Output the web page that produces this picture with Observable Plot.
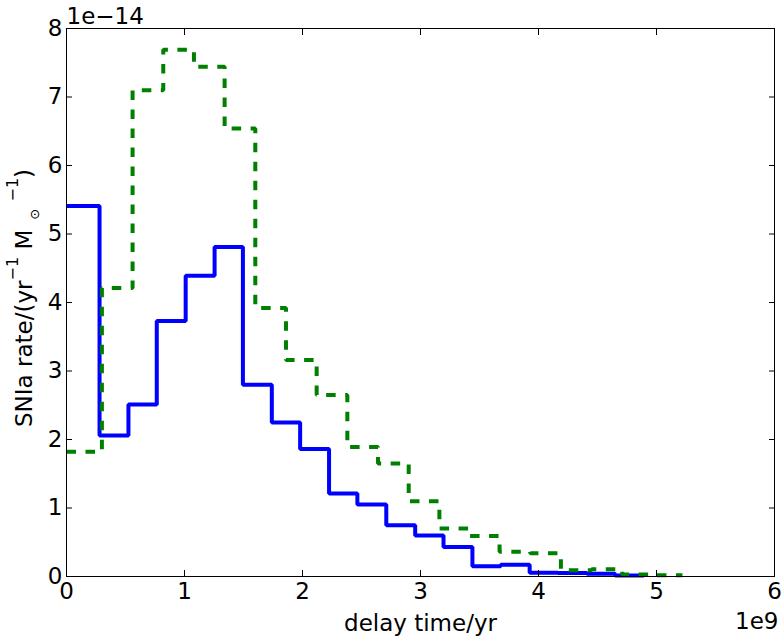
<!DOCTYPE html>
<html>
<head>
<meta charset="utf-8">
<script src="https://cdn.jsdelivr.net/npm/d3@7"></script>
<script src="https://cdn.jsdelivr.net/npm/@observablehq/plot@0.6"></script>
<style>
  body { margin: 0; background: #fff; }
  #chart svg { font-family: "DejaVu Sans", sans-serif; display: block; }
</style>
</head>
<body>
<div id="chart"></div>
<script>
// delay time bin edges (units of 1e9 yr) and SNIa rates (units of 1e-14 /yr/Msun)
const blueEdges = [0, 0.28, 0.525, 0.765, 1.01, 1.255, 1.495, 1.74, 1.98, 2.225, 2.465, 2.71, 2.955, 3.195, 3.44, 3.68, 3.925, 4.165, 4.41, 4.65, 4.895];
const blueRates = [5.41, 2.06, 2.51, 3.73, 4.39, 4.81, 2.80, 2.25, 1.86, 1.21, 1.05, 0.75, 0.60, 0.43, 0.15, 0.17, 0.055, 0.05, 0.04, 0.015];
const greenEdges = [0, 0.30, 0.56, 0.82, 1.08, 1.34, 1.60, 1.86, 2.12, 2.38, 2.64, 2.90, 3.16, 3.41, 3.67, 3.93, 4.19, 4.45, 4.71, 4.97, 5.22];
const greenRates = [1.82, 4.21, 7.10, 7.69, 7.44, 6.54, 3.92, 3.16, 2.65, 1.89, 1.65, 1.10, 0.70, 0.59, 0.36, 0.34, 0.09, 0.105, 0.03, 0.02];
const xTicks = [0, 1, 2, 3, 4, 5, 6];
const yTicks = [0, 1, 2, 3, 4, 5, 6, 7, 8];
const xLabel = "delay time/yr";
const xOffsetLabel = "1e9";
const yOffsetLabel = "1e\u221214";

function steps(edges, rates) {
  return edges.map((x, i) => ({x, y: rates[Math.min(i, rates.length - 1)]}));
}

const fmt = d => String(d);

const chart = Plot.plot({
  width: 782,
  height: 638,
  marginLeft: 66,
  marginRight: 8,
  marginTop: 28,
  marginBottom: 62,
  style: {fontFamily: "DejaVu Sans", fontSize: "23px", background: "white", color: "black", overflow: "visible"},
  x: {domain: [0, 6]},
  y: {domain: [0, 8]},
  marks: [
    Plot.lineY(steps(blueEdges, blueRates), {x: "x", y: "y", curve: "step-after", stroke: "#0000ff", strokeWidth: 4, strokeLinejoin: "miter", strokeLinecap: "butt"}),
    Plot.lineY(steps(greenEdges, greenRates), {x: "x", y: "y", curve: "step-after", stroke: "#008000", strokeWidth: 4, strokeDasharray: "9.5,9.5", strokeLinejoin: "miter", strokeLinecap: "butt"}),
    Plot.frame({stroke: "black", strokeWidth: 1}),
    Plot.axisX(xTicks, {anchor: "bottom", tickSize: 6, dy: -6, fill: "none", label: null}),
    Plot.axisX(xTicks, {anchor: "top", tickSize: 6, dy: 6, fill: "none", label: null}),
    Plot.axisX(xTicks, {anchor: "bottom", tickSize: 0, tickPadding: 6, tickFormat: fmt, label: null}),
    Plot.axisY(yTicks, {anchor: "left", tickSize: 6, dx: 6, fill: "none", label: null}),
    Plot.axisY(yTicks, {anchor: "right", tickSize: 6, dx: -6, fill: "none", label: null}),
    Plot.axisY(yTicks, {anchor: "left", tickSize: 0, tickPadding: 4, tickFormat: fmt, label: null}),
    Plot.text([xLabel], {text: d => d, frameAnchor: "bottom", lineAnchor: "middle", dy: 47, fill: "black"}),
    Plot.text([xOffsetLabel], {text: d => d, frameAnchor: "bottom-right", textAnchor: "end", lineAnchor: "middle", dx: 4, dy: 45, fill: "black"}),
    Plot.text([yOffsetLabel], {text: d => d, frameAnchor: "top-left", textAnchor: "start", lineAnchor: "middle", dx: 0, dy: -12, fill: "black"})
  ]
});

document.getElementById("chart").appendChild(chart);

// y-axis label with mathtext-like super/subscripts
const svg = d3.select(chart);
const lab = svg.append("text")
  .attr("transform", "translate(32,427) rotate(-90)")
  .attr("text-anchor", "start")
  .attr("fill", "black")
  .style("font-family", "DejaVu Sans")
  .style("font-size", "23px");
lab.append("tspan").text("SNIa rate/(yr");
lab.append("tspan").style("font-size", "16px").attr("dy", -14).text("\u22121");
lab.append("tspan").style("font-size", "23px").attr("dy", 14).text(" M");
lab.append("tspan").style("font-size", "13px").attr("dy", 7).attr("dx", 10).text("\u2299");
lab.append("tspan").style("font-size", "23px").attr("dy", -7).text(" ");
lab.append("tspan").style("font-size", "16px").attr("dy", -14).text("\u22121");
lab.append("tspan").style("font-size", "23px").attr("dy", 14).text(")");
</script>
</body>
</html>
